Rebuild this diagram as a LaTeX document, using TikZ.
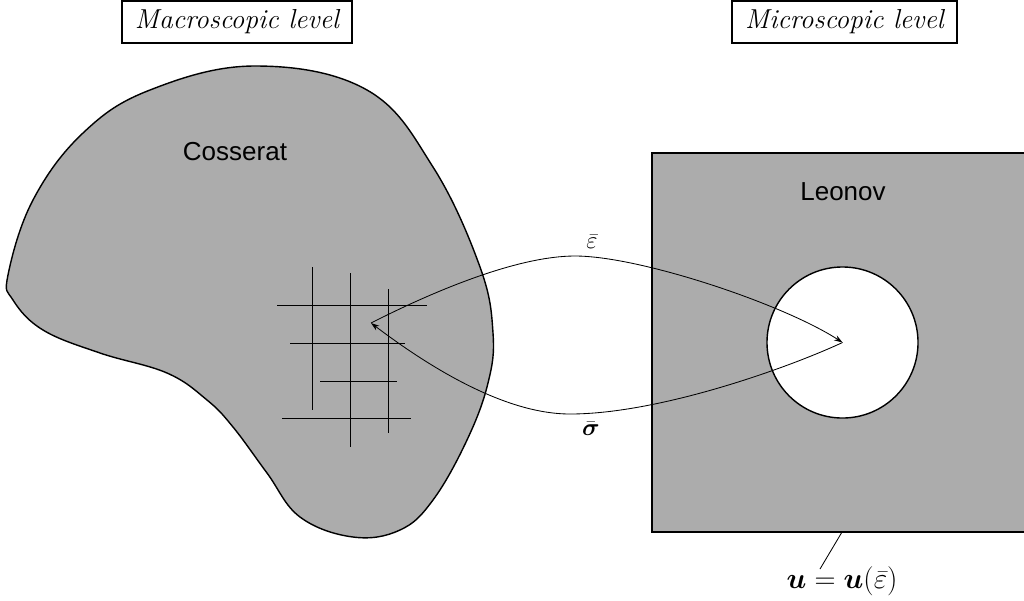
\documentclass[tikz,border=0pt]{standalone}
\usepackage{amsmath}
\usepackage{fontspec}
\newfontfamily\labelsans{Liberation Sans}
\usetikzlibrary{arrows.meta}
\begin{document}
\begin{tikzpicture}[x=0.025cm,y=-0.025cm,
  titlebox/.style={draw, line width=0.8pt, inner sep=0pt, minimum height=1.05cm,
    font=\fontsize{19.5}{22}\selectfont\itshape},
  region/.style={fill=gray!65, draw=black, line width=1pt},
  gridline/.style={line width=0.7pt},
  hole/.style={circle, fill=white, draw=black, line width=1pt, minimum size=3.775cm, inner sep=0pt},
  arr/.style={line width=0.6pt, -{Stealth[length=6pt,width=4pt]}},
  sanslabel/.style={font=\labelsans\fontsize{18.5}{20}\selectfont},
  mathlabel/.style={font=\fontsize{17.28}{20}\selectfont},
  leader/.style={line width=0.6pt}]
\useasboundingbox (0,0) rectangle (1024,600);
\begin{scope}
\clip (0,0) rectangle (1024,600);

% title boxes
\node[titlebox, minimum width=5.75cm] (macro) at (237,22) {Macroscopic level};
\node[titlebox, minimum width=5.625cm] (micro) at (844.5,22) {Microscopic level};

% macroscopic body
\draw[region] plot[smooth cycle, tension=0.65] coordinates {
  (8,275) (33,200) (83,133) (150,90) (255,66) (367,90) (433,167) (480,267)
  (493,333) (488,383) (467,440) (433,500) (400,530) (353,537) (300,517)
  (267,473) (233,427) (207,400) (167,373) (100,353) (43,330) (13,300)};

% grid
\draw[gridline] (312,267) -- (312,410);
\draw[gridline] (350,273) -- (350,447);
\draw[gridline] (388,289) -- (388,433);
\draw[gridline] (277,305) -- (427,305);
\draw[gridline] (290,343) -- (405,343);
\draw[gridline] (320,381) -- (397,381);
\draw[gridline] (282,418) -- (411,418);

\node[sanslabel] (cosserat) at (235,152) {Cosserat};

% microscopic cell
\draw[region] (652,153) rectangle (1031,532);
\node[hole] (hole) at (842.5,342.5) {};
\node[sanslabel] (leonov) at (843,192) {Leonov};

\coordinate (P) at (371,323);
\coordinate (C) at (hole.center);

% transfer arrows
\draw[arr] (P) .. controls (440,288) and (520,256) .. (575,256)
               .. controls (640,256) and (783,304) .. (C);
\draw[arr] (C) .. controls (790,367) and (660,414) .. (570,414)
               .. controls (500,414) and (420,360) .. (P);

\node[mathlabel] (eps) at (592,242) {$\bar{\varepsilon}$};
\node[mathlabel] (sig) at (591,429) {$\bar{\boldsymbol{\sigma}}$};

% boundary condition label
\coordinate (lead) at (842,532);
\coordinate (leadend) at (820,569);
\draw[leader] (lead) -- (leadend);
\node[font=\fontsize{20.74}{24}\selectfont, inner sep=1pt] (ulabel) at (842,581)
  {$\boldsymbol{u}=\boldsymbol{u}(\bar{\varepsilon})$};
\end{scope}
\end{tikzpicture}
\end{document}
